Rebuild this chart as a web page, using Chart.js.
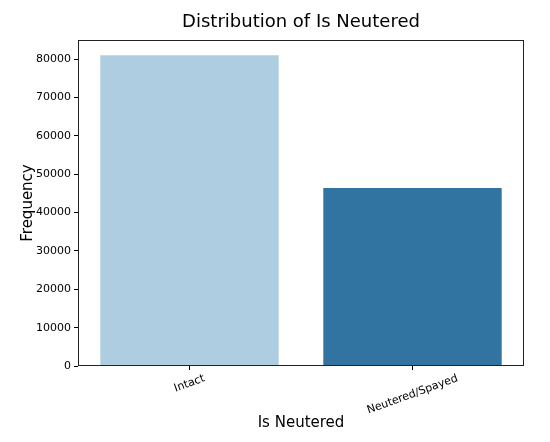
<!DOCTYPE html>
<html>
<head>
<meta charset="utf-8">
<script src="https://cdn.jsdelivr.net/npm/chart.js@4"></script>
<style>
  html, body { margin: 0; padding: 0; background: #fff; }
  canvas { display: block; }
</style>
</head>
<body>
<canvas id="c" width="550" height="442"></canvas>
<script>
// ── DATA ──
const categories = ['Intact', 'Neutered/Spayed'];
const counts = [81000, 46400];
const yTicks = [0, 10000, 20000, 30000, 40000, 50000, 60000, 70000, 80000];
const barColors = ['#afcde0', '#3274a1'];

const FONT = "'DejaVu Sans', sans-serif";
const ink = '#000';

// frame, title and centred rotated x labels (matplotlib style)
const mplBits = {
  id: 'mplBits',
  afterDraw(chart) {
    const { ctx, chartArea: a } = chart;
    ctx.save();
    ctx.strokeStyle = '#222';
    ctx.lineWidth = 1;
    ctx.strokeRect(Math.round(a.left) + 0.5, Math.round(a.top) + 0.5,
      Math.round(a.right - a.left) - 1, Math.round(a.bottom - a.top) - 1);

    ctx.fillStyle = ink;
    ctx.font = '18px ' + FONT;
    ctx.textAlign = 'center';
    ctx.textBaseline = 'middle';
    ctx.fillText('Distribution of Is Neutered', (a.left + a.right) / 2, 22);

    const xs = chart.scales.x;
    const ang = 20 * Math.PI / 180;
    ctx.font = '11px ' + FONT;
    categories.forEach((lab, i) => {
      const x = xs.getPixelForTick(i);
      const w = ctx.measureText(lab).width, h = 11;
      const boxH = w * Math.sin(ang) + h * Math.cos(ang);
      ctx.save();
      ctx.translate(x, a.bottom + 7 + boxH / 2);
      ctx.rotate(-ang);
      ctx.fillText(lab, 0, 0);
      ctx.restore();
    });
    ctx.restore();
  }
};

new Chart(document.getElementById('c'), {
  type: 'bar',
  data: {
    labels: categories,
    datasets: [{ data: counts, backgroundColor: barColors, borderWidth: 0, barPercentage: 0.8, categoryPercentage: 1.0 }]
  },
  options: {
    responsive: false,
    animation: false,
    devicePixelRatio: 1,
    layout: { padding: { top: 40, right: 26, bottom: 0, left: 0 } },
    plugins: { legend: { display: false }, tooltip: { enabled: false } },
    scales: {
      x: {
        afterFit: s => { s.height = 76; },
        grid: { offset: false, drawOnChartArea: false, tickLength: 4, color: ink },
        border: { display: false },
        ticks: { display: false },
        title: { display: true, text: 'Is Neutered', color: ink, font: { family: FONT, size: 15 }, padding: { top: 0, bottom: 10 } }
      },
      y: {
        min: 0,
        max: 85000,
        afterFit: s => { s.width = 78; },
        afterBuildTicks: s => { s.ticks = yTicks.map(v => ({ value: v })); },
        grid: { drawOnChartArea: false, tickLength: 4, color: ink },
        border: { display: false },
        ticks: { color: ink, padding: 3, font: { family: FONT, size: 11 }, callback: v => String(v) },
        title: { display: true, text: 'Frequency', color: ink, font: { family: FONT, size: 15 }, padding: { top: 19, bottom: 0 } }
      }
    }
  },
  plugins: [mplBits]
});
</script>
</body>
</html>
